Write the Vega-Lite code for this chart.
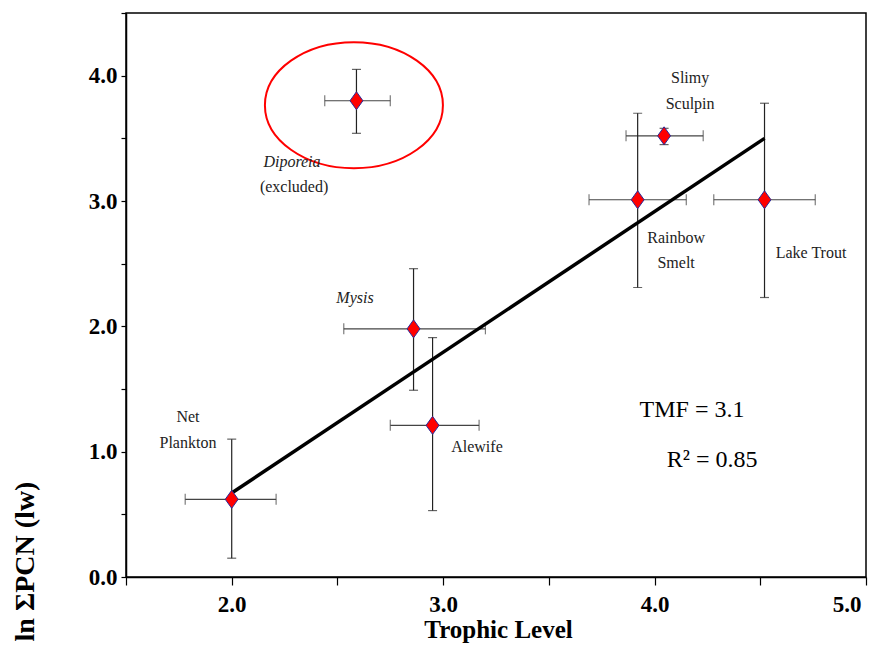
{
  "$schema": "https://vega.github.io/schema/vega-lite/v6.json",
  "width": 740,
  "height": 564,
  "autosize": {"type": "none"},
  "padding": {"left": 126, "top": 13, "right": 9, "bottom": 76},
  "background": "white",
  "config": {
    "view": {"stroke": "black", "strokeWidth": 1.5},
    "font": "Liberation Serif",
    "text": {"font": "Liberation Serif"}
  },
  "datasets": {
    "points": [
      {"species": "Net Plankton", "tl": 2.0, "pcn": 0.62, "tl_lo": 1.78, "tl_hi": 2.21, "pcn_lo": 0.15, "pcn_hi": 1.10},
      {"species": "Mysis", "tl": 2.86, "pcn": 1.98, "tl_lo": 2.53, "tl_hi": 3.20, "pcn_lo": 1.49, "pcn_hi": 2.46},
      {"species": "Alewife", "tl": 2.95, "pcn": 1.21, "tl_lo": 2.75, "tl_hi": 3.17, "pcn_lo": 0.53, "pcn_hi": 1.91},
      {"species": "Diporeia", "tl": 2.59, "pcn": 3.80, "tl_lo": 2.44, "tl_hi": 2.75, "pcn_lo": 3.54, "pcn_hi": 4.05},
      {"species": "Slimy Sculpin", "tl": 4.045, "pcn": 3.52, "tl_lo": 3.865, "tl_hi": 4.23, "pcn_lo": 3.45, "pcn_hi": 3.58},
      {"species": "Rainbow Smelt", "tl": 3.92, "pcn": 3.01, "tl_lo": 3.69, "tl_hi": 4.15, "pcn_lo": 2.31, "pcn_hi": 3.70},
      {"species": "Lake Trout", "tl": 4.52, "pcn": 3.01, "tl_lo": 4.28, "tl_hi": 4.76, "pcn_lo": 2.23, "pcn_hi": 3.78}
    ],
    "fit": [
      {"tl": 2.0, "pcn": 0.67},
      {"tl": 4.52, "pcn": 3.50}
    ],
    "labels": [
      {"text": "Net", "tl": 1.793, "pcn": 1.276},
      {"text": "Plankton", "tl": 1.793, "pcn": 1.069},
      {"text": "Alewife", "tl": 3.16, "pcn": 1.037},
      {"text": "(excluded)", "tl": 2.295, "pcn": 3.11},
      {"text": "Slimy", "tl": 4.168, "pcn": 3.979},
      {"text": "Sculpin", "tl": 4.168, "pcn": 3.772},
      {"text": "Rainbow", "tl": 4.102, "pcn": 2.703},
      {"text": "Smelt", "tl": 4.102, "pcn": 2.504},
      {"text": "Lake Trout", "tl": 4.74, "pcn": 2.584}
    ],
    "italic": [
      {"text": "Mysis", "tl": 2.583, "pcn": 2.225},
      {"text": "Diporeia", "tl": 2.285, "pcn": 3.309}
    ],
    "stats": [
      {"text": "TMF = 3.1", "tl": 4.177, "pcn": 1.332},
      {"text": "R² = 0.85", "tl": 4.272, "pcn": 0.933}
    ],
    "ellipse": [
      {"tl": 2.578, "pcn": 3.764}
    ]
  },
  "encoding": {
    "x": {
      "field": "tl",
      "type": "quantitative",
      "scale": {"domain": [1.5, 5.0], "nice": false, "zero": false},
      "axis": {
        "title": "Trophic Level",
        "values": [1.5, 2, 2.5, 3, 3.5, 4, 4.5, 5],
        "labelExpr": "datum.value % 1 === 0 ? format(datum.value, '.1f') : ''",
        "grid": false,
        "domainColor": "black",
        "domainWidth": 1.5,
        "tickColor": "black",
        "tickWidth": 1.2,
        "tickSize": 8,
        "labelFont": "Liberation Serif",
        "labelFontWeight": "bold",
        "labelFontSize": 23,
        "labelColor": "black",
        "labelPadding": 8,
        "labelFlush": true,
        "labelFlushOffset": -5,
        "titleFont": "Liberation Serif",
        "titleFontWeight": "bold",
        "titleFontSize": 25,
        "titleColor": "black",
        "titleBaseline": "alphabetic",
        "titleY": 60,
        "titleX": 372
      }
    },
    "y": {
      "field": "pcn",
      "type": "quantitative",
      "scale": {"domain": [0, 4.5], "nice": false, "zero": false},
      "axis": {
        "title": "ln ΣPCN (lw)",
        "values": [0, 0.5, 1, 1.5, 2, 2.5, 3, 3.5, 4, 4.5],
        "labelExpr": "datum.value % 1 === 0 ? format(datum.value, '.1f') : ''",
        "grid": false,
        "domainColor": "black",
        "domainWidth": 1.5,
        "tickColor": "black",
        "tickWidth": 1.2,
        "tickSize": 5,
        "labelFont": "Liberation Serif",
        "labelFontWeight": "bold",
        "labelFontSize": 23,
        "labelColor": "black",
        "labelPadding": 4,
        "labelFlush": false,
        "titleFont": "Liberation Serif",
        "titleFontWeight": "bold",
        "titleFontSize": 28,
        "titleColor": "black",
        "titleAngle": -90,
        "titleAlign": "center",
        "titleBaseline": "alphabetic",
        "titleX": -93,
        "titleY": 548
      }
    }
  },
  "layer": [
    {
      "data": {"name": "ellipse"},
      "mark": {
        "type": "point",
        "shape": "M-1,0A1,0.708,0,1,1,1,0A1,0.708,0,1,1,-1,0Z",
        "size": 31684,
        "filled": false,
        "stroke": "#ff0000",
        "strokeWidth": 2,
        "opacity": 1
      },
      "encoding": {}
    },
    {
      "data": {"name": "points"},
      "mark": {"type": "rule", "color": "#444444", "strokeWidth": 1.2},
      "encoding": {"x": {"field": "tl_lo"}, "x2": {"field": "tl_hi"}, "y": {"field": "pcn"}}
    },
    {
      "data": {"name": "points"},
      "mark": {"type": "rule", "color": "#222222", "strokeWidth": 1.2},
      "encoding": {"y": {"field": "pcn_lo"}, "y2": {"field": "pcn_hi"}, "x": {"field": "tl"}}
    },
    {
      "data": {"name": "points"},
      "mark": {"type": "tick", "orient": "vertical", "color": "#444444", "thickness": 1.2, "size": 11},
      "encoding": {"x": {"field": "tl_lo"}, "y": {"field": "pcn"}}
    },
    {
      "data": {"name": "points"},
      "mark": {"type": "tick", "orient": "vertical", "color": "#444444", "thickness": 1.2, "size": 11},
      "encoding": {"x": {"field": "tl_hi"}, "y": {"field": "pcn"}}
    },
    {
      "data": {"name": "points"},
      "mark": {"type": "tick", "orient": "horizontal", "color": "#222222", "thickness": 1.2, "size": 9},
      "encoding": {"x": {"field": "tl"}, "y": {"field": "pcn_lo"}}
    },
    {
      "data": {"name": "points"},
      "mark": {"type": "tick", "orient": "horizontal", "color": "#222222", "thickness": 1.2, "size": 9},
      "encoding": {"x": {"field": "tl"}, "y": {"field": "pcn_hi"}}
    },
    {
      "data": {"name": "fit"},
      "mark": {"type": "line", "color": "black", "strokeWidth": 3.5},
      "encoding": {}
    },
    {
      "data": {"name": "points"},
      "mark": {
        "type": "point",
        "shape": "M0,-1L0.72,0L0,1L-0.72,0Z",
        "size": 324,
        "filled": true,
        "fill": "#ff0000",
        "stroke": "#2a2a9a",
        "strokeWidth": 1,
        "opacity": 1
      },
      "encoding": {}
    },
    {
      "data": {"name": "labels"},
      "mark": {"type": "text", "font": "Liberation Serif", "fontSize": 16, "color": "#222222", "align": "center", "baseline": "middle"},
      "encoding": {"text": {"field": "text"}}
    },
    {
      "data": {"name": "italic"},
      "mark": {"type": "text", "font": "Liberation Serif", "fontSize": 16, "fontStyle": "italic", "color": "#222222", "align": "center", "baseline": "middle"},
      "encoding": {"text": {"field": "text"}}
    },
    {
      "data": {"name": "stats"},
      "mark": {"type": "text", "font": "Liberation Serif", "fontSize": 24, "color": "black", "align": "center", "baseline": "middle"},
      "encoding": {"text": {"field": "text"}}
    }
  ]
}
